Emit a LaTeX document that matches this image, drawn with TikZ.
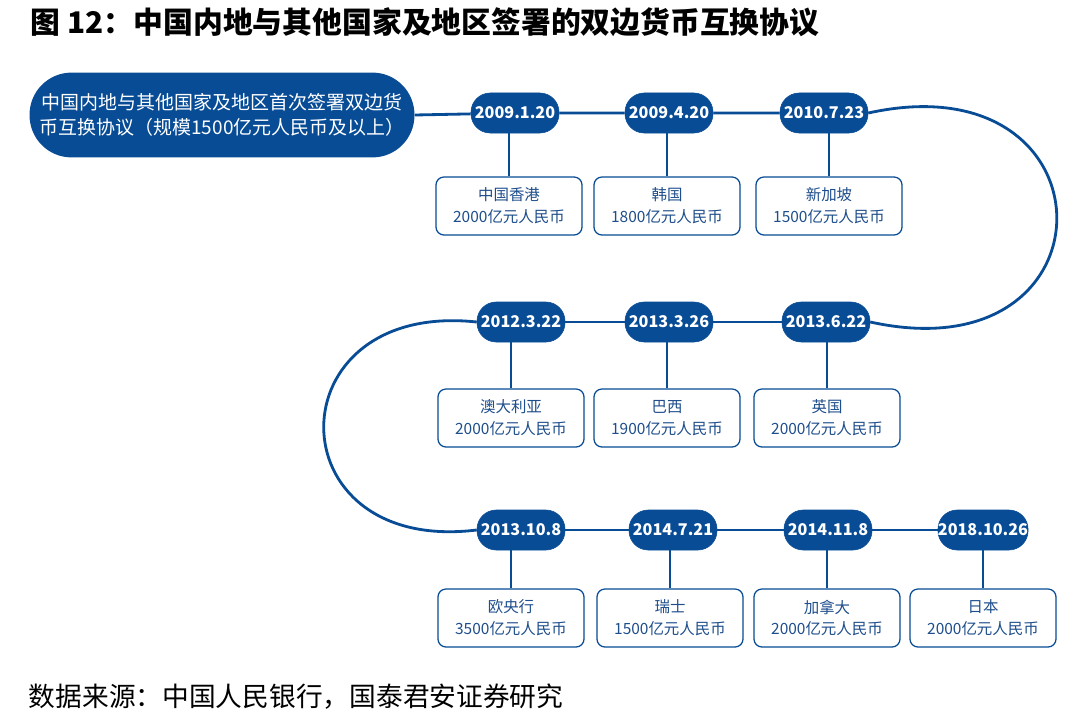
\documentclass[tikz,border=0pt]{standalone}
\usepackage{fontspec}
\setmainfont{Noto Sans CJK SC}
\usetikzlibrary{backgrounds}
\definecolor{swapblue}{RGB}{8,76,150}
\definecolor{swaptext}{RGB}{30,78,140}

\begin{document}
\begin{tikzpicture}[x=0.025cm,y=-0.025cm,
datepill/.style={fill=swapblue,draw=swapblue,rounded corners=0.48cm,
  minimum width=2.2cm,minimum height=1cm,inner sep=0pt,
  text=white,font=\fontsize{11.5}{14}\selectfont\bfseries},
amountbox/.style={draw=swapblue,fill=white,line width=0.9pt,rounded corners=0.2cm,
  minimum width=3.65cm,minimum height=1.45cm,align=center,
  text=swaptext,font=\fontsize{11}{15.6}\selectfont},
link/.style={draw=swapblue,line width=2pt}]
\useasboundingbox (0,0) rectangle (1080,725);

\node[anchor=west,font=\fontsize{21.2}{24}\selectfont\bfseries] (title) at (26,22)
  {图 12：中国内地与其他国家及地区签署的双边货币互换协议};

\node[fill=swapblue,rounded corners=1.05cm,minimum width=9.62cm,minimum height=2.12cm,
  align=center,text=white,font=\fontsize{13.5}{17.7}\selectfont] (first) at (222,115)
  {中国内地与其他国家及地区首次签署双边货\\币互换协议（规模1500亿元人民币及以上）};

\node[datepill] (d1) at (515,113) {2009.1.20};
\node[datepill] (d2) at (669,113) {2009.4.20};
\node[datepill] (d3) at (824,113) {2010.7.23};
\node[datepill] (d4) at (521,322) {2012.3.22};
\node[datepill] (d5) at (669,322) {2013.3.26};
\node[datepill] (d6) at (826,322) {2013.6.22};
\node[datepill] (d7) at (521,530) {2013.10.8};
\node[datepill] (d8) at (673,530) {2014.7.21};
\node[datepill] (d9) at (828,530) {2014.11.8};
\node[datepill] (d10) at (983,530) {2018.10.26};

\node[amountbox] (b1) at (509,206) {中国香港\\2000亿元人民币};
\node[amountbox] (b2) at (667,206) {韩国\\1800亿元人民币};
\node[amountbox] (b3) at (829,206) {新加坡\\1500亿元人民币};
\node[amountbox] (b4) at (511,418) {澳大利亚\\2000亿元人民币};
\node[amountbox] (b5) at (667,418) {巴西\\1900亿元人民币};
\node[amountbox] (b6) at (827,418) {英国\\2000亿元人民币};
\node[amountbox] (b7) at (511,618) {欧央行\\3500亿元人民币};
\node[amountbox] (b8) at (670,618) {瑞士\\1500亿元人民币};
\node[amountbox] (b9) at (827,618) {加拿大\\2000亿元人民币};
\node[amountbox] (b10) at (983,618) {日本\\2000亿元人民币};

\begin{scope}[on background layer]
\draw[link] (first.east) -- (d1) -- (d2) -- (d3);
\draw[link] (d4) -- (d5) -- (d6);
\draw[link] (d7) -- (d8) -- (d9) -- (d10);
\draw[link] (d3.east) .. controls +(250,-55) and +(250,55) .. (d6.east);
\draw[link] (d4.west) .. controls +(-204,-22) and +(-204,25) .. (d7.west);
\foreach \i in {1,...,10}
  \draw[link] (b\i.north) -- (b\i.north |- d\i.south);
\end{scope}

\node[anchor=west,font=\fontsize{19}{22}\selectfont] (source) at (24,697)
  {数据来源：中国人民银行，国泰君安证券研究};
\end{tikzpicture}
\end{document}
